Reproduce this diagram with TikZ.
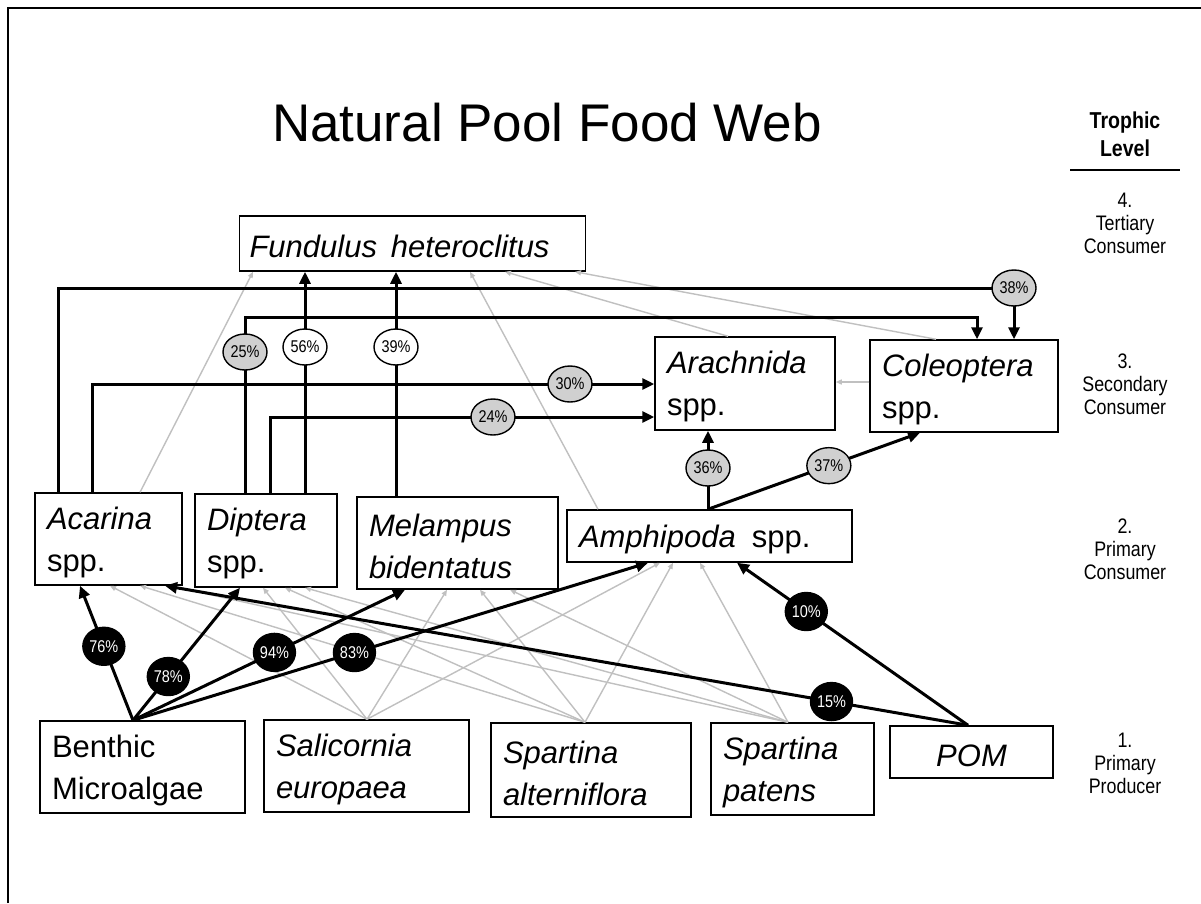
\documentclass[tikz,border=0pt]{standalone}
\usepackage{fontspec}
\setmainfont{Liberation Sans}
\usetikzlibrary{arrows.meta,shapes.geometric}
\definecolor{circgray}{RGB}{208,208,208}
\definecolor{webgray}{RGB}{192,192,192}
\newcommand{\nar}[1]{\scalebox{.85}[1]{#1}}
\begin{document}
\begin{tikzpicture}[x=1pt,y=-1pt,
  box/.style={draw,line width=1.5pt,inner xsep=12pt,inner ysep=0pt,align=left,
    font=\fontsize{31}{42}\selectfont,execute at begin node={\rule{0pt}{29pt}}},
  blk/.style={line width=3pt,-{Triangle[length=12pt,width=11pt]}},
  gline/.style={draw=webgray,line width=1.4pt,-{Triangle[length=6pt,width=5pt]}},
  pct/.style={ellipse,draw,line width=1.4pt,minimum width=44pt,minimum height=36pt,
    inner sep=0pt,font=\fontsize{17}{17}\selectfont},
  gc/.style={pct,fill=circgray},
  wc/.style={pct,fill=white},
  bc/.style={pct,fill=black,text=white,minimum width=42pt,minimum height=38pt},
  lvl/.style={align=center,font=\fontsize{21}{23}\selectfont},
]
\useasboundingbox (0,0) rectangle (1201,903);
\fill[white] (0,0) rectangle (1201,903);
\draw[line width=2pt] (8,903) -- (8,8) -- (1201,8);

% titles
\node[font=\fontsize{53}{60}\selectfont] (title) at (547,123) {Natural Pool Food Web};
\node[align=center,font=\bfseries\fontsize{23}{28}\selectfont] (troph) at (1125,134) {\nar{Trophic}\\\nar{Level}};
\draw[line width=2pt] (1070,170) -- (1180,170);
\node[lvl] (l4) at (1125,223) {\nar{4.}\\\nar{Tertiary}\\\nar{Consumer}};
\node[lvl] (l3) at (1125,384) {\nar{3.}\\\nar{Secondary}\\\nar{Consumer}};
\node[lvl] (l2) at (1125,549) {\nar{2.}\\\nar{Primary}\\\nar{Consumer}};
\node[lvl] (l1) at (1125,763) {\nar{1.}\\\nar{Primary}\\\nar{Producer}};

% boxes
\node[box,inner xsep=10pt,text width=326pt,minimum height=55pt] (fund) at (412.5,243.5) {\textit{Fundulus\hspace{14pt}heteroclitus}};
\node[box,text width=156pt,minimum height=93pt] (arach) at (745,383.5) {\textit{Arachnida}\\spp.};
\node[box,text width=164pt,minimum height=92pt] (coleo) at (964,386) {\textit{Coleoptera}\\spp.};
\node[box,text width=123pt,minimum height=92pt] (acar) at (108.5,539) {\textit{Acarina}\\spp.};
\node[box,text width=118pt,minimum height=93pt] (dipt) at (266,540.5) {\textit{Diptera}\\spp.};
\node[box,text width=177pt,minimum height=92pt] (melam) at (457.5,543) {\textit{Melampus}\\\textit{bidentatus}};
\node[box,text width=261pt,minimum height=52pt] (amph) at (709.5,536) {\textit{Amphipoda}\hspace{16pt}spp.};
\node[box,text width=181pt,minimum height=92pt] (benth) at (142.5,767) {Benthic\\Microalgae};
\node[box,text width=181pt,minimum height=92pt] (salic) at (366.5,766) {\textit{Salicornia}\\\textit{europaea}};
\node[box,text width=176pt,minimum height=94pt] (salt) at (591,770) {\textit{Spartina}\\\textit{alterniflora}};
\node[box,text width=139pt,minimum height=92pt] (spat) at (792.5,769) {\textit{Spartina}\\\textit{patens}};
\node[box,align=center,text width=139pt,minimum height=52pt] (pom) at (971.5,752) {\textit{POM}};

% gray links
\draw[gline] (140,0 |- acar.north) -- (253,0 |- fund.south);
\draw[gline] (598,0 |- amph.north) -- (470,0 |- fund.south);
\draw[gline] (728,0 |- arach.north) -- (505,0 |- fund.south);
\draw[gline] (936,0 |- coleo.north) -- (575,0 |- fund.south);
\draw[gline] (coleo.west |- 0,382) -- (arach.east |- 0,382);

\coordinate (st) at (367,0 |- salic.north);
\coordinate (sa) at (585,0 |- salt.north);
\coordinate (sp) at (788,0 |- spat.north);
\foreach \s/\a/\d/\m/\p in {st/110/263/447/660, sa/140/285/480/673, sp/170/305/510/700} {
  \draw[gline] (\s) -- (\a,0 |- acar.south);
  \draw[gline] (\s) -- (\d,0 |- dipt.south);
  \draw[gline] (\s) -- (\m,0 |- melam.south);
  \draw[gline] (\s) -- (\p,0 |- amph.south);
}

% black links
\coordinate (bt) at (133,0 |- benth.north);
\coordinate (pt) at (968,0 |- pom.north);

\draw[blk] (58,0 |- acar.north) |- (1014,288) node[gc] (c38) {\nar{38\%}} -- (1014,0 |- coleo.north);
\draw[blk] (245,0 |- dipt.north) -- (245,352) node[gc] (c25) {\nar{25\%}} -- (245,317) -| (977,0 |- coleo.north);
\draw[blk] (305,0 |- dipt.north) -- (305,347) node[wc] (c56) {\nar{56\%}} -- (305,0 |- fund.south);
\draw[blk] (396,0 |- melam.north) -- (396,347) node[wc] (c39) {\nar{39\%}} -- (396,0 |- fund.south);
\draw[blk] (92,0 |- acar.north) |- (570,384) node[gc] (c30) {\nar{30\%}} -- (arach.west |- 0,384);
\draw[blk] (270,0 |- dipt.north) |- (493,417) node[gc] (c24) {\nar{24\%}} -- (arach.west |- 0,417);
\draw[blk] (708,0 |- amph.north) -- (708,468) node[gc] (c36) {\nar{36\%}} -- (708,0 |- arach.south);
\draw[blk] (708,0 |- amph.north) -- node[gc,pos=.57] (c37) {\nar{37\%}} (920,0 |- coleo.south);

\draw[blk] (pt) -- node[bc,pos=.17] (c15) {\nar{15\%}} (165,0 |- acar.south);
\draw[blk] (pt) -- node[bc,pos=.70] (c10) {\nar{10\%}} (737,0 |- amph.south);
\draw[blk] (bt) -- node[bc,pos=.43] (c83) {\nar{83\%}} (648,0 |- amph.south);
\draw[blk] (bt) -- node[bc,pos=.52] (c94) {\nar{94\%}} (405,0 |- melam.south);
\draw[blk] (bt) -- node[bc,pos=.33] (c78) {\nar{78\%}} (240,0 |- dipt.south);
\draw[blk] (bt) -- node[bc,pos=.55] (c76) {\nar{76\%}} (80,0 |- acar.south);
\end{tikzpicture}
\end{document}
